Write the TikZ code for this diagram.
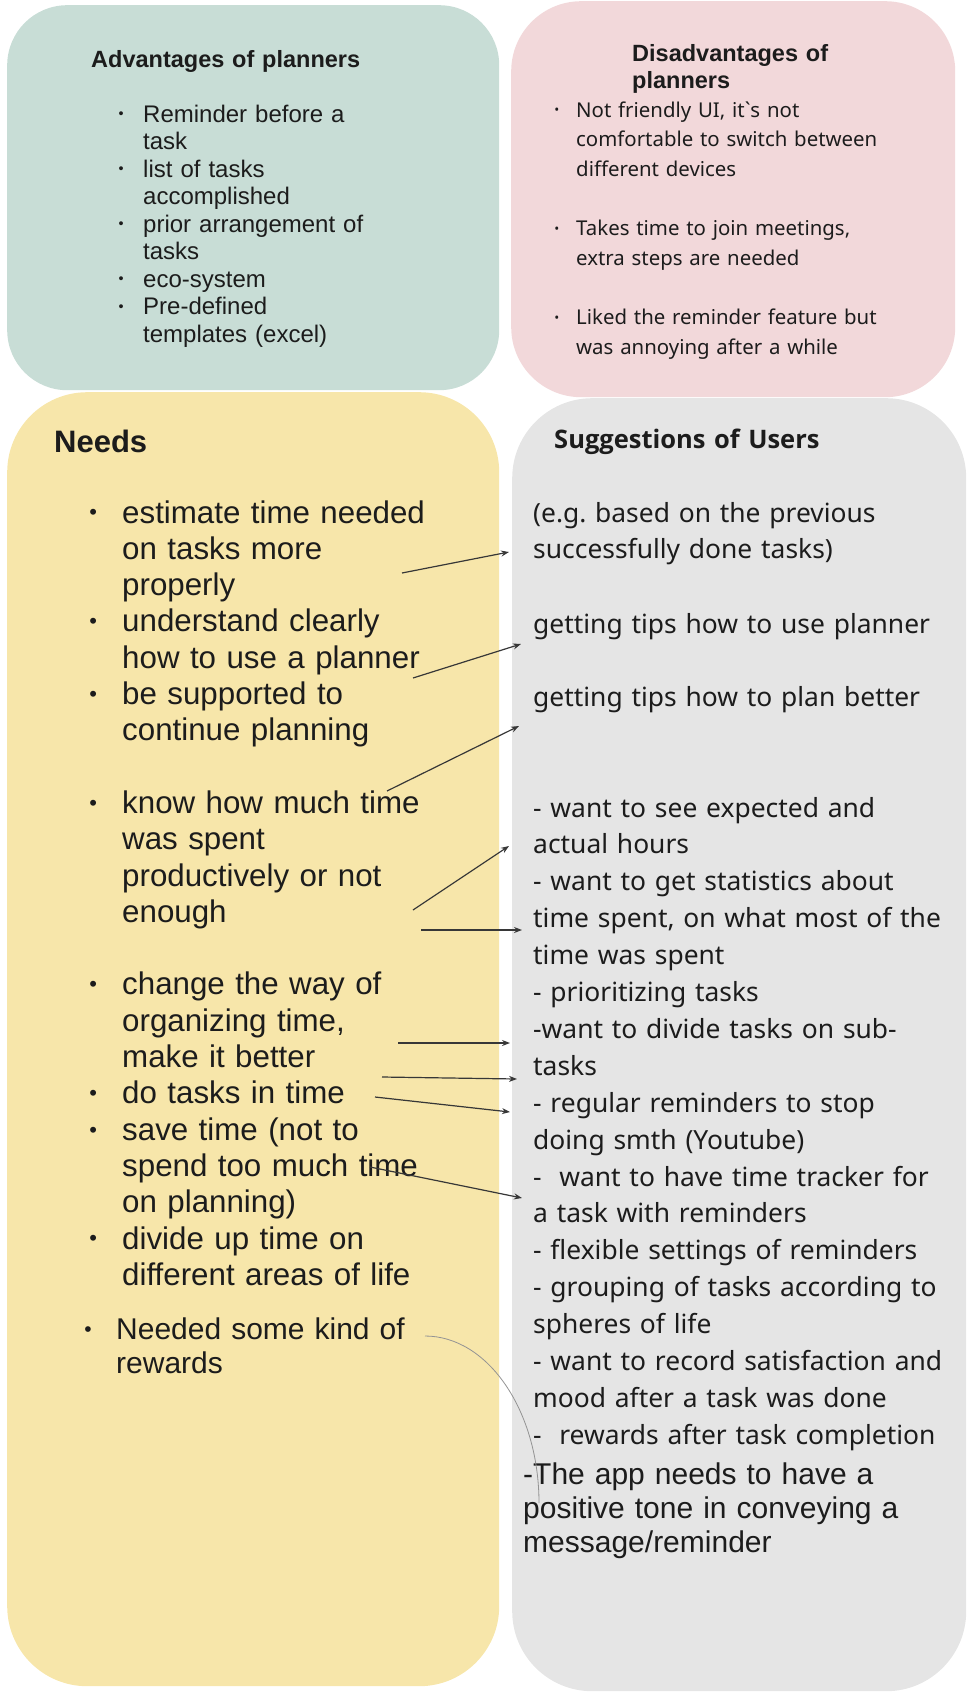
\documentclass[tikz,border=0pt]{standalone}
\usepackage{fontspec}
\setmainfont{Liberation Sans}
\newfontfamily\notofont{Noto Sans}
\newfontfamily\openfont{Open Sans}
\usepackage{tikz}
\usetikzlibrary{arrows.meta,positioning}
\definecolor{advgreen}{RGB}{200,221,214}
\definecolor{disrose}{RGB}{242,216,218}
\definecolor{needyellow}{RGB}{247,230,170}
\definecolor{suggray}{RGB}{229,229,229}
\definecolor{ink}{RGB}{28,28,28}
\definecolor{arrgray}{RGB}{55,55,55}
\newlength\bulw
\def\bulsc{1}
\newcommand{\dotmark}{\hspace*{\dimexpr 0.175em-0.175\dimexpr\bulsc em\relax\relax}%
  \raisebox{\dimexpr 0.33em-0.33\dimexpr\bulsc em\relax\relax}{\scalebox{\bulsc}{\textbullet}}}
\newcommand{\bitem}[1]{\noindent\hangindent=\bulw\hangafter=1\makebox[\bulw][l]{\dotmark}#1\par}
\newcommand{\gapline}{\vspace{\baselineskip}}
\frenchspacing
\tikzset{
  panel/.style={rectangle,fill=#1,draw=none,anchor=north west,inner sep=0pt},
  txt/.style={inner sep=0pt,anchor=base west,align=left,text=ink,text width=#1},
  txt/.default=460pt,
  bul/.style={execute at begin node={\setlength\bulw{#1}}},
  bulsize/.style={execute at begin node={\def\bulsc{#1}}},
  arr/.style={-{Stealth[length=8pt,width=6pt]},line width=1.2pt,color=arrgray},
  link/.style={line width=0.8pt,color=gray!85},
}

\begin{document}
\begin{tikzpicture}[x=1pt,y=-1pt]
  \useasboundingbox (0,0) rectangle (974,1694);

  % --- panels ---
  \node[panel=advgreen,minimum width=492pt,minimum height=385pt,rounded corners=60pt] (adv) at (7,5) {};
  \node[panel=disrose,minimum width=444pt,minimum height=396pt,rounded corners=70pt] (dis) at (511,1) {};
  \node[panel=needyellow,minimum width=492pt,minimum height=1294pt,rounded corners=80pt] (need) at (7,392) {};
  \node[panel=suggray,minimum width=454pt,minimum height=1293pt,rounded corners=80pt] (sugg) at (512,398) {};

  % --- advantages ---
  \node[txt=400pt,font={\bfseries\fontsize{23.5}{26.5}\selectfont}] (advtitle) at (91,67) {Advantages of planners};
  \node[txt=360pt,bul=26.2pt,bulsize=0.6,font={\fontsize{24}{27.5}\selectfont}] (advlist) at (116.8,122) {%
    \bitem{Reminder before a\newline task}
    \bitem{list of tasks\newline accomplished}
    \bitem{prior arrangement of\newline tasks}
    \bitem{eco-system}
    \bitem{Pre-defined\newline templates (excel)}};

  % --- disadvantages ---
  \node[txt=300pt,font={\bfseries\fontsize{23.5}{26.5}\selectfont}] (distitle) at (632,62) {Disadvantages of\newline planners};
  \node[txt=390pt,bul=23pt,bulsize=0.65,font={\notofont\fontsize{20.4}{29.7}\selectfont}] (dislist) at (553,117) {%
    \bitem{Not friendly UI, it\textasciigrave s not\newline comfortable to switch between\newline different devices}
    \gapline
    \bitem{Takes time to join meetings,\newline extra steps are needed}
    \gapline
    \bitem{Liked the reminder feature but\newline was annoying after a while}};

  % --- needs ---
  \node[txt=300pt,font={\bfseries\fontsize{31}{36}\selectfont}] (needtitle) at (54,452) {Needs};
  \node[txt=380pt,bul=34.4pt,bulsize=0.7,font={\fontsize{31.3}{36.3}\selectfont}] (needlist) at (87.6,523) {%
    \bitem{estimate time needed\newline on tasks more\newline properly}
    \bitem{understand clearly\newline how to use a planner}
    \bitem{be supported to\newline continue planning}
    \gapline
    \bitem{know how much time\newline was spent\newline productively or not\newline enough}
    \gapline
    \bitem{change the way of\newline organizing time,\newline make it better}
    \bitem{do tasks in time}
    \bitem{save time (not to\newline spend too much time\newline on planning)}
    \bitem{divide up time on\newline different areas of life}};
  \node[txt=380pt,bul=33.4pt,bulsize=0.7,font={\fontsize{30}{34.5}\selectfont}] (reward) at (82.6,1339) {%
    \bitem{Needed some kind of\newline rewards}};

  % --- suggestions ---
  \node[txt=400pt,font={\openfont\bfseries\fontsize{25.5}{30}\selectfont}] (suggtitle) at (554,448) {Suggestions of Users};
  \node[txt,font={\notofont\fontsize{26.4}{36.9}\selectfont}] (eg) at (533,522) {(e.g. based on the previous\newline successfully done tasks)};
  \node[txt,font={\notofont\fontsize{26.4}{36.9}\selectfont}] (tipuse) at (533,633) {getting tips how to use planner};
  \node[txt,font={\notofont\fontsize{26.4}{36.9}\selectfont}] (tipplan) at (533,706) {getting tips how to plan better};
  \node[txt,font={\notofont\fontsize{26.4}{36.9}\selectfont}] (sugglist) at (533,817) {%
    - want to see expected and\newline actual hours\newline
    - want to get statistics about\newline time spent, on what most of the\newline time was spent\newline
    - prioritizing tasks\newline
    -want to divide tasks on sub-\newline tasks\newline
    - regular reminders to stop\newline doing smth (Youtube)\newline
    -\ \ want to have time tracker for\newline a task with reminders\newline
    - flexible settings of reminders\newline
    - grouping of tasks according to\newline spheres of life\newline
    - want to record satisfaction and\newline mood after a task was done\newline
    -\ \ rewards after task completion};
  \node[txt,font={\fontsize{30}{34}\selectfont}] (tone) at (523,1484) {-The app needs to have a\newline positive tone in conveying a\newline message/reminder};

  % --- connectors ---
  \coordinate (s1) at (402,573);  \coordinate (t1) at (509,552);
  \coordinate (s2) at (413,678);  \coordinate (t2) at (521,644);
  \coordinate (s3) at (387,791);  \coordinate (t3) at (519,726);
  \coordinate (s4) at (413,910);  \coordinate (t4) at (509,846);
  \coordinate (s5) at (421,930);  \coordinate (t5) at (522,930);
  \coordinate (s6) at (398,1043); \coordinate (t6) at (510,1043);
  \coordinate (s7) at (382,1077); \coordinate (t7) at (517,1079);
  \coordinate (s8) at (375,1097); \coordinate (t8) at (510,1112);
  \coordinate (s9) at (370,1167); \coordinate (t9) at (522,1198);
  \foreach \i in {1,...,9} \draw[arr] (s\i) -- (t\i);

  \coordinate (rw) at (425,1336);
  \coordinate (rwend) at (539,1503);
  \draw[link] (rw) .. controls ++(63,0) and ++(0,-92) .. (rwend);
\end{tikzpicture}
\end{document}
